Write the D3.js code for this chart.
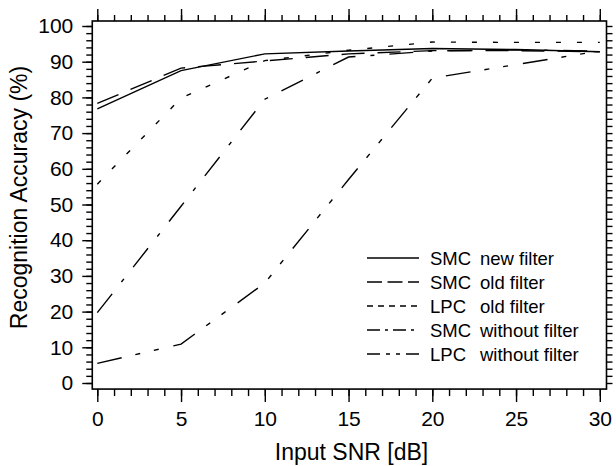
<!DOCTYPE html>
<html>
<head>
<meta charset="utf-8">
<script src="https://cdn.jsdelivr.net/npm/d3@7"></script>
<style>
  html, body { margin: 0; padding: 0; background: #fff; }
  svg { display: block; }
  text { font-family: "Liberation Sans", Arial, Helvetica, sans-serif; fill: #000; }
</style>
</head>
<body>
<svg id="chart" width="616" height="466"></svg>
<script>
// ---- data ----
const snr = [0, 5, 10, 15, 20, 25, 30];
const smcNew     = [76.8, 87.5, 92.2, 93.0, 93.7, 93.4, 92.8];
const smcOld     = [78.3, 88.2, 90.2, 92.2, 93.1, 93.1, 92.8];
const lpcOld     = [55.7, 79.8, 90.3, 93.2, 95.5, 95.4, 95.4];
const smcWithout = [19.7, 49.5, 79.5, 91.3, 93.0, 93.3, 93.0];
const lpcWithout = [5.5, 10.9, 28.0, 57.0, 85.4, 89.2, 93.0];

const seriesNames = ["SMC new filter", "SMC old filter", "LPC  old filter", "SMC without filter", "LPC  without filter"];
const legendPrefix = ["SMC", "SMC", "LPC", "SMC", "LPC"];
const legendSuffix = ["new filter", "old filter", "old filter", "without filter", "without filter"];
const seriesValues = [smcNew, smcOld, lpcOld, smcWithout, lpcWithout];

const xMajorTicks = [0, 5, 10, 15, 20, 25, 30];
const yMajorTicks = [0, 10, 20, 30, 40, 50, 60, 70, 80, 90, 100];

// ---- styles ----
const plotDash   = [null, "23,13", "5,16", "24,15,4,15", "25,14,5,14,5,15"];
const legendDash = [null, "15,5.5", "6,5", "13,5,3,5", "13,6,4,6,4,6"];

const svg = d3.select("#chart");
const x = d3.scaleLinear().domain([0, 30]).range([97.3, 599.8]);
const y = d3.scaleLinear().domain([0, 100]).range([383, 26]);

const fL = x(-0.3), fR = x(30.4), fT = y(101.4), fB = y(-1.7);

// minor tick arrays
const xMinor = d3.range(0, 31, 1);
const yMinor = d3.range(0, 101, 2);

function styleAxis(g) {
  g.select(".domain").remove();
  g.selectAll("line").attr("stroke", "#000").attr("stroke-width", 1.4);
}

// left axis
svg.append("g").attr("transform", `translate(${fL},0)`)
  .call(d3.axisLeft(y).tickValues(yMinor).tickSize(6).tickFormat(""))
  .call(styleAxis);
svg.append("g").attr("transform", `translate(${fL},0)`)
  .call(d3.axisLeft(y).tickValues(yMajorTicks).tickSize(10).tickPadding(9))
  .call(styleAxis)
  .call(g => g.selectAll("text").attr("font-size", 21).attr("font-family", '"Liberation Sans", Arial, sans-serif').attr("fill", "#000"));

// right axis
svg.append("g").attr("transform", `translate(${fR},0)`)
  .call(d3.axisRight(y).tickValues(yMinor).tickSize(6).tickFormat(""))
  .call(styleAxis);

// bottom axis
svg.append("g").attr("transform", `translate(0,${fB})`)
  .call(d3.axisBottom(x).tickValues(xMinor).tickSize(7).tickFormat(""))
  .call(styleAxis);
svg.append("g").attr("transform", `translate(0,${fB})`)
  .call(d3.axisBottom(x).tickValues(xMajorTicks).tickSize(13).tickPadding(9))
  .call(styleAxis)
  .call(g => g.selectAll("text").attr("font-size", 21).attr("font-family", '"Liberation Sans", Arial, sans-serif').attr("fill", "#000"));

// top axis
svg.append("g").attr("transform", `translate(0,${fT})`)
  .call(d3.axisTop(x).tickValues(xMinor).tickSize(6).tickFormat(""))
  .call(styleAxis);
svg.append("g").attr("transform", `translate(0,${fT})`)
  .call(d3.axisTop(x).tickValues(xMajorTicks).tickSize(12).tickFormat(""))
  .call(styleAxis);

// frame
svg.append("rect")
  .attr("x", fL).attr("y", fT).attr("width", fR - fL).attr("height", fB - fT)
  .attr("fill", "none").attr("stroke", "#000").attr("stroke-width", 1.6);

// lines
const line = d3.line().x((d, i) => x(snr[i])).y(d => y(d));
seriesValues.forEach((vals, k) => {
  svg.append("path")
    .datum(vals)
    .attr("d", line)
    .attr("fill", "none")
    .attr("stroke", "#000")
    .attr("stroke-width", 1.4)
    .attr("stroke-dasharray", plotDash[k]);
});

// legend
const legY = d3.scaleLinear().domain([0, 4]).range([258, 354]);
seriesNames.forEach((name, k) => {
  const yy = legY(k);
  svg.append("line")
    .attr("x1", 367).attr("x2", 419).attr("y1", yy).attr("y2", yy)
    .attr("stroke", "#000").attr("stroke-width", 1.3)
    .attr("stroke-dasharray", legendDash[k]);
  svg.append("text").attr("x", 430).attr("y", yy).attr("dy", "0.36em")
    .attr("font-size", 18.5).text(legendPrefix[k]);
  svg.append("text").attr("x", 480).attr("y", yy).attr("dy", "0.36em")
    .attr("font-size", 18.5).text(legendSuffix[k]);
});

// axis titles
svg.append("text")
  .attr("x", (x(0) + x(30)) / 2 + 3).attr("y", 460)
  .attr("text-anchor", "middle").attr("font-size", 23)
  .text("Input SNR [dB]");
svg.append("text")
  .attr("transform", `translate(27,${(y(0) + y(100)) / 2 - 7}) rotate(-90)`)
  .attr("text-anchor", "middle").attr("font-size", 23)
  .text("Recognition Accuracy (%)");
</script>
</body>
</html>
